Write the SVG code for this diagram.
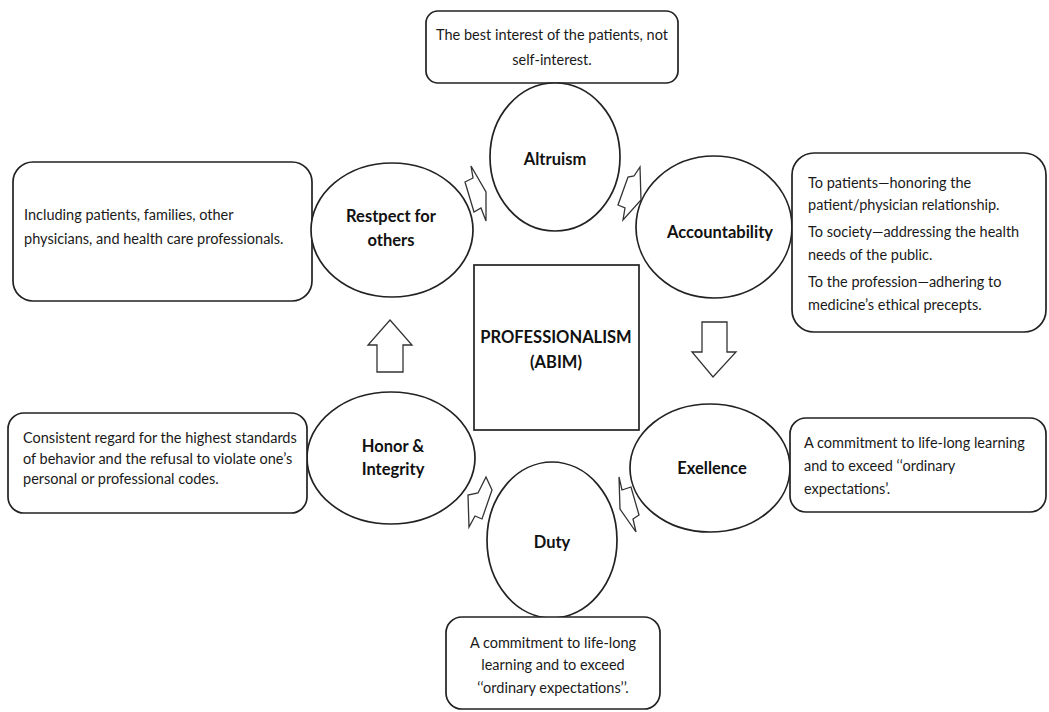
<svg xmlns="http://www.w3.org/2000/svg" width="1049" height="712" viewBox="0 0 1049 712">
<style>
.box{fill:#fff;stroke:#222;stroke-width:1.7}
.ell{fill:#fff;stroke:#222;stroke-width:1.7}
.arr{fill:#fff;stroke:#333;stroke-width:1.3;stroke-linejoin:miter}
.t{font-family:Lato,"Liberation Sans",sans-serif;font-size:14.5px;fill:#1a1a1a}
.b{font-family:Lato,"Liberation Sans",sans-serif;font-size:16.5px;font-weight:bold;fill:#111;text-anchor:middle}
.c{text-anchor:middle}
</style>
<rect width="1049" height="712" fill="#fff"/>
<g id="connectors">
<polygon class="arr" points="471,166 486,192 486,221 481,208 474,212 465,182 473,178"/>
<polygon class="arr" points="640,167 641,200 623,220 625,208 618,205 628,177 634,176"/>
<polygon class="arr" points="702,322 727,322 727,352 736,352 713,377 692,352 702,352"/>
<polygon class="arr" points="619,477 622,490 631,487 639,515 633,519 636,532 620,509"/>
<polygon class="arr" points="486,477 492,490 482,519 475,516 469,527 468,495 478,493"/>
<polygon class="arr" points="390,320 412,345 403,345 403,372 377,372 377,345 368,345"/>
</g>
<g id="center">
<rect class="box" x="474" y="265" width="165" height="165"/>
<text class="b" x="556" y="343">PROFESSIONALISM</text>
<text class="b" x="556" y="368">(ABIM)</text>
</g>
<g id="altruism-note">
<rect class="box" x="426" y="11" width="252" height="72" rx="12"/>
<text class="t c" x="552" y="40">The best interest of the patients, not</text>
<text class="t c" x="552" y="65">self-interest.</text>
</g>
<g id="altruism">
<ellipse class="ell" cx="555" cy="157" rx="65" ry="74"/>
<text class="b" x="555" y="165">Altruism</text>
</g>
<g id="respect-note">
<rect class="box" x="13" y="162" width="299" height="139" rx="20"/>
<text class="t" x="24" y="220">Including patients, families, other</text>
<text class="t" x="24" y="244">physicians, and health care professionals.</text>
</g>
<g id="respect">
<ellipse class="ell" cx="392" cy="230" rx="81" ry="67"/>
<text class="b" x="391" y="222">Restpect for</text>
<text class="b" x="391" y="246">others</text>
</g>
<g id="accountability">
<ellipse class="ell" cx="714" cy="227" rx="78" ry="71"/>
<text class="b" x="720" y="238">Accountability</text>
</g>
<g id="accountability-note">
<rect class="box" x="792" y="153" width="254" height="179" rx="22"/>
<text class="t" x="808" y="188">To patients—honoring the</text>
<text class="t" x="808" y="210">patient/physician relationship.</text>
<text class="t" x="808" y="237">To society—addressing the health</text>
<text class="t" x="808" y="260">needs of the public.</text>
<text class="t" x="808" y="287">To the profession—adhering to</text>
<text class="t" x="808" y="310">medicine’s ethical precepts.</text>
</g>
<g id="excellence">
<ellipse class="ell" cx="710" cy="468" rx="80" ry="64"/>
<text class="b" x="712" y="474">Exellence</text>
</g>
<g id="excellence-note">
<rect class="box" x="790" y="418" width="256" height="94" rx="16"/>
<text class="t" x="804" y="448">A commitment to life-long learning</text>
<text class="t" x="804" y="471">and to exceed ‘‘ordinary</text>
<text class="t" x="804" y="494">expectations’.</text>
</g>
<g id="duty">
<ellipse class="ell" cx="552" cy="540" rx="65" ry="78"/>
<text class="b" x="552" y="548">Duty</text>
</g>
<g id="duty-note">
<rect class="box" x="446" y="617" width="214" height="92" rx="16"/>
<text class="t c" x="553" y="648">A commitment to life-long</text>
<text class="t c" x="553" y="670">learning and to exceed</text>
<text class="t c" x="553" y="693">‘‘ordinary expectations’’.</text>
</g>
<g id="honor">
<ellipse class="ell" cx="391" cy="458" rx="84" ry="66"/>
<text class="b" x="393" y="452">Honor &amp;</text>
<text class="b" x="393" y="475">Integrity</text>
</g>
<g id="honor-note">
<rect class="box" x="8" y="413" width="299" height="100" rx="16"/>
<text class="t" x="23" y="443">Consistent regard for the highest standards</text>
<text class="t" x="23" y="464">of behavior and the refusal to violate one’s</text>
<text class="t" x="23" y="484">personal or professional codes.</text>
</g>
</svg>
